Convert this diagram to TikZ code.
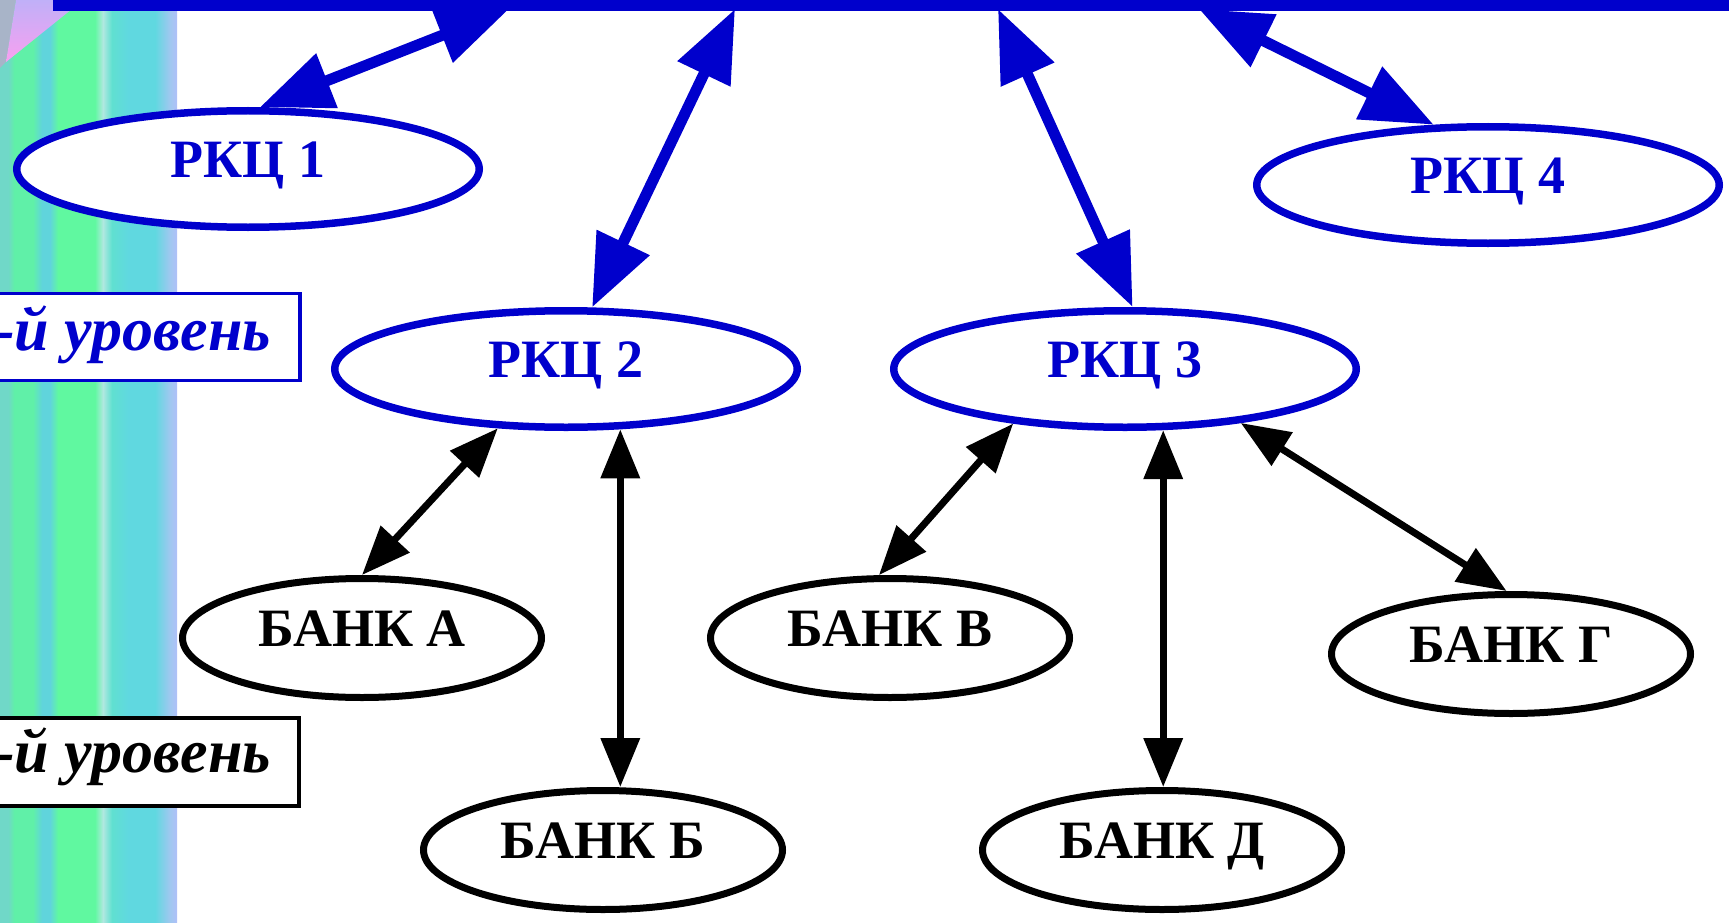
\documentclass[tikz,border=0pt]{standalone}
\usepackage{fontspec}
\setmainfont{Liberation Serif}
\usetikzlibrary{arrows.meta,shapes.geometric,calc}
\definecolor{rblue}{RGB}{0,0,204}
\definecolor{sA}{RGB}{112,216,200}
\definecolor{sB}{RGB}{96,240,168}
\definecolor{sC}{RGB}{96,212,220}
\definecolor{sD}{RGB}{96,248,160}
\definecolor{sE}{RGB}{176,232,224}
\definecolor{sF}{RGB}{96,224,208}
\definecolor{sG}{RGB}{96,216,224}
\definecolor{sH}{RGB}{160,200,240}
\definecolor{sI}{RGB}{176,192,248}
\definecolor{pinkA}{RGB}{248,160,240}
\definecolor{lavA}{RGB}{192,176,248}
\definecolor{greyA}{RGB}{168,180,200}
\pgfdeclarehorizontalshading{stripshade}{100bp}{color(0bp)=(sA); color(25bp)=(sA); color(27.3bp)=(sA); color(29bp)=(sB); color(34.3bp)=(sB); color(36.9bp)=(sC); color(39.1bp)=(sC); color(41.4bp)=(sD); color(51.8bp)=(sD); color(54.1bp)=(sE); color(56.6bp)=(sF); color(61.2bp)=(sG); color(68.8bp)=(sG); color(73bp)=(sH); color(75bp)=(sI); color(100bp)=(sI)}
\tikzset{
  rkc/.style={ellipse, draw=rblue, line width=7.5pt, fill=white, minimum width=462.5pt, minimum height=116.5pt, inner sep=0pt, text=rblue, font=\bfseries\fontsize{54}{60}\selectfont, text height=36pt, text depth=20pt},
  bank/.style={ellipse, draw=black, line width=7pt, fill=white, minimum width=359pt, minimum height=119pt, inner sep=0pt, text=black, font=\bfseries\fontsize{54}{60}\selectfont, text height=36pt, text depth=20pt},
  lvlbox/.style={rectangle, fill=white, anchor=north east, minimum width=340pt, inner sep=0pt},
  lvltext/.style={anchor=base east, inner sep=0pt, font=\bfseries\itshape\fontsize{62}{64}\selectfont},
  bluearrow/.style={draw=rblue, line width=11pt, arrows={Triangle[length=72pt,width=56pt]-Triangle[length=72pt,width=56pt]}},
  blackarrow/.style={draw=black, line width=7pt, arrows={Triangle[length=49pt,width=38pt]-Triangle[length=49pt,width=38pt]}}
}
\begin{document}
\begin{tikzpicture}[x=1pt,y=-1pt]
\useasboundingbox (0,0) rectangle (1729,923);
% background strip
\shade[shading=stripshade] (0,0) rectangle (177,923);
\fill[greyA] (0,0) -- (16,0) -- (6,62) -- (0,68) -- cycle;
\shade[top color=lavA, bottom color=pinkA] (16,0) -- (6,62) -- (72,9) -- (72,0) -- cycle;
% level labels
\node[lvlbox, draw=rblue, line width=3.5pt, minimum height=87pt] (lvl2box) at (301.5,291.5) {};
\node[lvltext, text=rblue] (lvl2) at (271,350) {-й уровень};
\node[lvlbox, draw=black, line width=4pt, minimum height=88pt] (lvl3box) at (301,716) {};
\node[lvltext, text=black] (lvl3) at (271,772) {-й уровень};
% RKC nodes
\node[rkc] (rkc1) at (248,169) {РКЦ 1};
\node[rkc] (rkc2) at (566,369) {РКЦ 2};
\node[rkc] (rkc3) at (1125,369) {РКЦ 3};
\node[rkc] (rkc4) at (1488,185) {РКЦ 4};
% banks
\node[bank] (bankA) at (362,638) {БАНК А};
\node[bank] (bankB) at (603,850) {БАНК Б};
\node[bank] (bankV) at (890,638) {БАНК В};
\node[bank] (bankG) at (1511,654) {БАНК Г};
\node[bank] (bankD) at (1162,850) {БАНК Д};
% top attachment points
\coordinate (t1) at (509,9);
\coordinate (t2) at (735,9);
\coordinate (t3) at (998,9);
\coordinate (t4) at (1199,9);
% blue connectors
\draw[bluearrow] (t1) -- (rkc1.79);
\draw[bluearrow] (t2) -- (rkc2.67);
\draw[bluearrow] (t3) -- (rkc3.83);
\draw[bluearrow] (t4) -- (rkc4.132);
% black connectors
\draw[blackarrow] (rkc2.-139) -- (bankA.north);
\draw[blackarrow] (rkc2.-48.7) -- (rkc2.-48.7 |- bankB.north);
\draw[blackarrow] (rkc3.-154) -- (bankV.100);
\draw[blackarrow] (rkc3.-58.2) -- (rkc3.-58.2 |- bankD.north);
\draw[blackarrow] (rkc3.-25.4) -- (bankG.94);
% top bar
\node[fill=rblue, inner sep=0pt, minimum width=1676pt, minimum height=11pt, anchor=north west] (bar) at (53,0) {};
\end{tikzpicture}
\end{document}
